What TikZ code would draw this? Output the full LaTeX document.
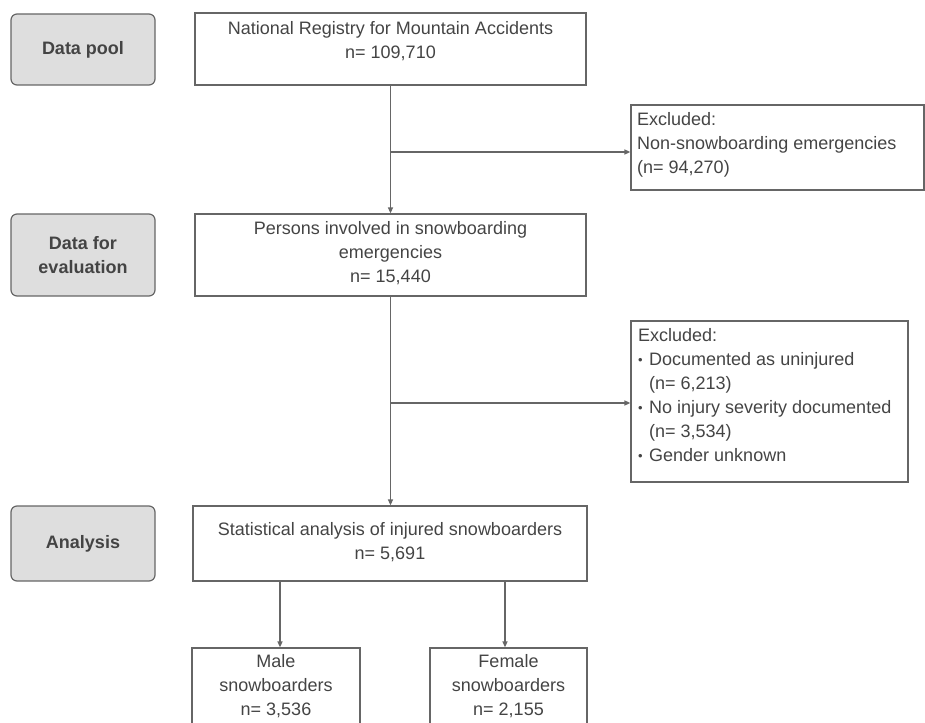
\documentclass[tikz,border=0pt]{standalone}
\usepackage{fontspec}
\setmainfont{Liberation Sans}
\usetikzlibrary{arrows.meta}
\definecolor{linecol}{HTML}{666666}
\definecolor{txtcol}{HTML}{444444}
\definecolor{grayfill}{HTML}{DEDEDE}
\newcommand{\bul}{\makebox[11pt][l]{\raisebox{1pt}{\fontsize{13}{13}\selectfont •}}}
\begin{document}
\begin{tikzpicture}[x=1pt,y=-1pt,
  every node/.style={text=txtcol, font=\fontsize{18}{24}\selectfont},
  box/.style={draw=linecol, line width=1.2pt, inner sep=0pt, rectangle},
  stage/.style={draw=linecol, fill=grayfill, line width=1.2pt, rounded corners=6pt,
    inner sep=0pt, align=center, font=\fontsize{18}{24}\selectfont\bfseries},
  txt/.style={inner sep=0pt, align=center},
  ltxt/.style={inner sep=0pt, align=left, anchor=west},
  arr/.style={draw=linecol, line width=1.3pt, -{Triangle[length=6pt,width=5pt]}}]
\useasboundingbox (0,0) rectangle (925,722);
\clip (0,0) rectangle (925,722);

% stage labels
\node[stage, minimum width=144pt, minimum height=71pt] (dp) at (83,49.5) {Data pool};
\node[stage, minimum width=144pt, minimum height=82pt] (de) at (83,255) {Data for\\evaluation};
\node[stage, minimum width=144pt, minimum height=75pt] (an) at (83,543.5) {Analysis};

% main boxes
\node[box, minimum width=391pt, minimum height=72pt] (b1) at (390.5,49) {};
\node[txt] (b1t) at (390.5,41) {National Registry for Mountain Accidents\\n= 109,710};

\node[box, minimum width=293pt, minimum height=85pt] (ex1) at (777.5,147.5) {};
\node[ltxt] (ex1t) at (637,145) {Excluded:\\Non-snowboarding emergencies\\(n= 94,270)};

\node[box, minimum width=391pt, minimum height=82pt] (b2) at (390.5,255) {};
\node[txt] (b2t) at (390.5,253) {Persons involved in snowboarding\\emergencies\\n= 15,440};

\node[box, minimum width=277pt, minimum height=161pt] (ex2) at (769.5,401.5) {};
\node[ltxt] (ex2t) at (638,395) {Excluded:\\
\bul Documented as uninjured\\
\hspace*{11pt}(n= 6,213)\\
\bul No injury severity documented\\
\hspace*{11pt}(n= 3,534)\\
\bul Gender unknown};

\node[box, minimum width=394pt, minimum height=75pt] (b3) at (390,543.5) {};
\node[txt] (b3t) at (390,542.5) {Statistical analysis of injured snowboarders\\n= 5,691};

\node[box, minimum width=168pt, minimum height=78pt] (male) at (276,687) {};
\node[txt] (malet) at (276,686) {Male\\snowboarders\\n= 3,536};

\node[box, minimum width=157pt, minimum height=78pt] (female) at (508.5,687) {};
\node[txt] (femalet) at (508.5,686) {Female\\snowboarders\\n= 2,155};

% connectors
\draw[arr] (b1.south) -- (b2.north);
\coordinate (j1) at (390.5,152);
\draw[arr] (j1) -- (j1 -| ex1.west);
\draw[arr] (b2.south) -- (b2.south |- b3.north);
\coordinate (j2) at (390.5,403);
\draw[arr] (j2) -- (j2 -| ex2.west);
\coordinate (mx) at (280,0);
\coordinate (fx) at (505,0);
\draw[arr] (mx |- b3.south) -- (mx |- male.north);
\draw[arr] (fx |- b3.south) -- (fx |- female.north);
\end{tikzpicture}
\end{document}
